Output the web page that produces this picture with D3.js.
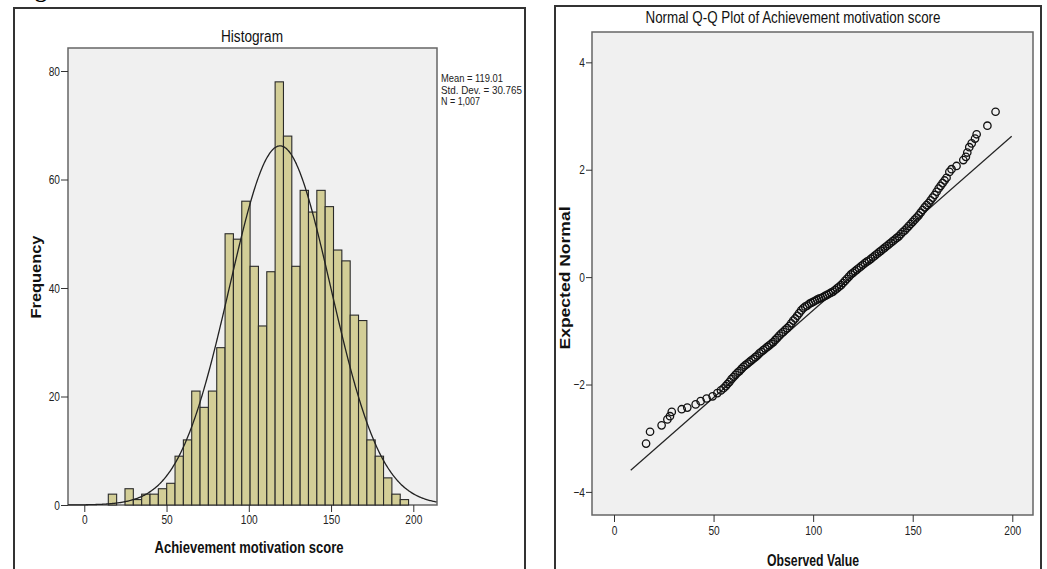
<!DOCTYPE html>
<html>
<head>
<meta charset="utf-8">
<script src="https://cdn.jsdelivr.net/npm/d3@7"></script>
<style>
  body { margin: 0; background: #fff; }
  svg { display: block; font-family: "Liberation Sans", Arial, sans-serif; }
</style>
</head>
<body>
<svg id="chart" width="1047" height="569"></svg>
<script>
// ---- histogram data ----
const binStart = 14.6
const binWidth = 5.07
const binCounts = [2, 0, 3, 1, 2, 2, 3, 4, 9, 12, 21, 18, 21, 29, 50, 49, 56, 44, 33, 43,
                   78, 68, 44, 58, 54, 58, 55, 47, 45, 35, 34, 12, 9, 5, 2, 1]

const mean = 119.01
const stdDev = 30.765
const nCases = 1007
const statLines = ["Mean = 119.01", "Std. Dev. = 30.765", "N = 1,007"]
const statWidths = [62, 81, 39]

const histXTicks = [0, 50, 100, 150, 200]
const histYTicks = [0, 20, 40, 60, 80]

const qqObserved = [
  16.1, 18.1, 23.9, 26.8, 28.1, 29.0, 34.0, 36.8, 41.0, 43.5, 46.5, 49.5, 51.9, 53.7, 55.0, 56.1,
  57, 58, 59, 60, 61, 62, 63, 64, 65, 66, 67, 68, 69, 70, 71, 72, 73, 74, 75, 76, 77, 78, 79, 80,
  81, 82, 83, 84, 85, 86, 87, 88, 89, 90, 91, 92, 93, 94, 95, 96, 97, 98, 99, 100,
  101, 102, 103, 104, 105, 106, 107, 108, 109, 110, 111, 112, 113, 114, 115, 116, 117, 118, 119, 120,
  121, 122, 123, 124, 125, 126, 127, 128, 129, 130, 131, 132, 133, 134, 135, 136, 137, 138, 139, 140,
  141, 142, 143, 144, 145, 146, 147, 148, 149, 150, 151, 152, 153, 154, 155, 156, 157, 158, 159, 160,
  161, 162, 163, 164, 165, 166, 167,
  168.4, 169.5, 172.0, 175.4, 176.7, 177.4, 178.4, 179.6, 181.3, 182.1, 187.5, 191.6
]
const qqExpected = [
  -3.10, -2.88, -2.76, -2.65, -2.59, -2.51, -2.46, -2.43, -2.37, -2.31, -2.26, -2.22, -2.16, -2.11, -2.07, -2.03,
  -1.99, -1.95, -1.90, -1.86, -1.82, -1.78, -1.75, -1.71, -1.67, -1.64, -1.61, -1.58, -1.55, -1.52,
  -1.49, -1.46, -1.42, -1.39, -1.36, -1.33, -1.30, -1.27, -1.24, -1.21,
  -1.17, -1.13, -1.09, -1.05, -1.02, -0.98, -0.95, -0.91, -0.86, -0.81,
  -0.77, -0.72, -0.67, -0.62, -0.58, -0.55, -0.53, -0.50, -0.48, -0.46,
  -0.44, -0.42, -0.40, -0.39, -0.37, -0.35, -0.33, -0.31, -0.29, -0.27,
  -0.24, -0.21, -0.18, -0.15, -0.11, -0.07, -0.03, 0.01, 0.05, 0.08,
  0.11, 0.14, 0.17, 0.20, 0.23, 0.26, 0.29, 0.31, 0.34, 0.37,
  0.40, 0.43, 0.46, 0.49, 0.52, 0.55, 0.58, 0.61, 0.64, 0.67,
  0.70, 0.73, 0.76, 0.80, 0.84, 0.87, 0.91, 0.95, 0.99, 1.03,
  1.07, 1.11, 1.15, 1.20, 1.25, 1.30, 1.34, 1.38, 1.43, 1.48,
  1.53, 1.59, 1.65, 1.70, 1.75, 1.80, 1.85,
  1.96, 2.01, 2.07, 2.18, 2.24, 2.32, 2.42, 2.49, 2.58, 2.66, 2.82, 3.08
]
const refLineX = [8.4, 199.7]

const qqXTicks = [0, 50, 100, 150, 200]
const qqYTicks = [-4, -2, 0, 2, 4]

const svg = d3.select("#chart")

// squeeze text horizontally (the original uses a narrow font)
function condense(sel, factor) {
  sel.each(function () {
    let w = this.getComputedTextLength()
    d3.select(this).attr("textLength", w * factor).attr("lengthAdjust", "spacingAndGlyphs")
  })
}
function fitWidth(sel, width) {
  sel.attr("textLength", width).attr("lengthAdjust", "spacingAndGlyphs")
}

// stray heading letter cut off at the top of the page
svg.append("text")
  .attr("x", 35).attr("y", -3)
  .attr("font-family", "Liberation Serif, serif")
  .attr("font-weight", "bold")
  .attr("font-size", 24)
  .text("g")

// panel frames
svg.append("rect")
  .attr("x", 14).attr("y", 8).attr("width", 511).attr("height", 620)
  .attr("fill", "#fff").attr("stroke", "#333").attr("stroke-width", 2)
svg.append("rect")
  .attr("x", 555).attr("y", 6).attr("width", 486).attr("height", 620)
  .attr("fill", "#fff").attr("stroke", "#333").attr("stroke-width", 2)

function styleAxis(g) {
  g.attr("font-size", 13)
  g.select(".domain").remove()
  g.selectAll(".tick line").attr("stroke", "#333")
  g.selectAll(".tick text").attr("fill", "#222").call(condense, 0.78)
}

// ================= Histogram =================
const hx = d3.scaleLinear().domain([-9.9, 214.4]).range([68, 437])
const hy = d3.scaleLinear().domain([0, 84.24]).range([505, 48])

svg.append("rect")
  .attr("x", 68).attr("y", 48).attr("width", 437 - 68).attr("height", 505 - 48)
  .attr("fill", "#f0f0f0").attr("stroke", "#666").attr("stroke-width", 1.5)

svg.append("g")
  .attr("transform", "translate(0,505)")
  .call(d3.axisBottom(hx).tickValues(histXTicks).tickSize(7).tickPadding(3))
  .call(styleAxis)

svg.append("g")
  .attr("transform", "translate(68,0)")
  .call(d3.axisLeft(hy).tickValues(histYTicks).tickSize(7).tickPadding(1))
  .call(styleAxis)

let bins = binCounts.map((c, i) => ({ x0: binStart + i * binWidth, x1: binStart + (i + 1) * binWidth, count: c }))

svg.append("g").selectAll("rect")
  .data(bins.filter(d => d.count > 0))
  .join("rect")
  .attr("x", d => hx(d.x0))
  .attr("y", d => hy(d.count))
  .attr("width", d => hx(d.x1) - hx(d.x0))
  .attr("height", d => hy(0) - hy(d.count))
  .attr("fill", "#d3ce97")
  .attr("stroke", "#2a2a2a")
  .attr("stroke-width", 1.1)

// fitted normal curve
let curveX = d3.range(-9.9, 214.5, 0.5)
let normal = x => nCases * binWidth * Math.exp(-0.5 * ((x - mean) / stdDev) ** 2) / (stdDev * Math.sqrt(2 * Math.PI))
svg.append("path")
  .datum(curveX)
  .attr("d", d3.line().x(d => hx(d)).y(d => hy(normal(d))).curve(d3.curveBasis))
  .attr("fill", "none")
  .attr("stroke", "#222")
  .attr("stroke-width", 1.3)

svg.append("text")
  .attr("x", 252).attr("y", 42)
  .attr("text-anchor", "middle")
  .attr("font-size", 16)
  .attr("fill", "#111")
  .call(fitWidth, 62)
  .text("Histogram")

svg.append("g").selectAll("text")
  .data(statLines)
  .join("text")
  .attr("x", 441)
  .attr("y", (d, i) => 82 + i * 11.5)
  .attr("font-size", 11)
  .attr("fill", "#222")
  .attr("textLength", (d, i) => statWidths[i])
  .attr("lengthAdjust", "spacingAndGlyphs")
  .text(d => d)

svg.append("text")
  .attr("transform", "translate(41,277) rotate(-90)")
  .attr("text-anchor", "middle")
  .attr("font-weight", "bold")
  .attr("font-size", 14)
  .attr("fill", "#111")
  .call(fitWidth, 83)
  .text("Frequency")

svg.append("text")
  .attr("x", 249).attr("y", 553)
  .attr("text-anchor", "middle")
  .attr("font-weight", "bold")
  .attr("font-size", 17)
  .attr("fill", "#111")
  .call(fitWidth, 189)
  .text("Achievement motivation score")

// ================= Q-Q plot =================
const qx = d3.scaleLinear().domain([-11.05, 210.4]).range([592, 1033])
const qy = d3.scaleLinear().domain([-4.43, 4.565]).range([515, 32])

svg.append("rect")
  .attr("x", 592).attr("y", 32).attr("width", 1033 - 592).attr("height", 515 - 32)
  .attr("fill", "#f0f0f0").attr("stroke", "#666").attr("stroke-width", 1.5)

svg.append("g")
  .attr("transform", "translate(0,515)")
  .call(d3.axisBottom(qx).tickValues(qqXTicks).tickSize(7).tickPadding(4))
  .call(styleAxis)

svg.append("g")
  .attr("transform", "translate(592,0)")
  .call(d3.axisLeft(qy).tickValues(qqYTicks).tickSize(6).tickPadding(1))
  .call(styleAxis)

svg.append("line")
  .attr("x1", qx(refLineX[0])).attr("y1", qy((refLineX[0] - mean) / stdDev))
  .attr("x2", qx(refLineX[1])).attr("y2", qy((refLineX[1] - mean) / stdDev))
  .attr("stroke", "#222")
  .attr("stroke-width", 1.2)

svg.append("g").selectAll("circle")
  .data(qqObserved.map((v, i) => [v, qqExpected[i]]))
  .join("circle")
  .attr("cx", d => qx(d[0]))
  .attr("cy", d => qy(d[1]))
  .attr("r", 3.7)
  .attr("fill", "none")
  .attr("stroke", "#111")
  .attr("stroke-width", 1.3)

svg.append("text")
  .attr("x", 793).attr("y", 23)
  .attr("text-anchor", "middle")
  .attr("font-size", 16)
  .attr("fill", "#111")
  .call(fitWidth, 295)
  .text("Normal Q-Q Plot of Achievement motivation score")

svg.append("text")
  .attr("transform", "translate(570,278) rotate(-90)")
  .attr("text-anchor", "middle")
  .attr("font-weight", "bold")
  .attr("font-size", 14)
  .attr("fill", "#111")
  .call(fitWidth, 143)
  .text("Expected Normal")

svg.append("text")
  .attr("x", 813).attr("y", 566)
  .attr("text-anchor", "middle")
  .attr("font-weight", "bold")
  .attr("font-size", 17)
  .attr("fill", "#111")
  .call(fitWidth, 92)
  .text("Observed Value")
</script>
</body>
</html>
